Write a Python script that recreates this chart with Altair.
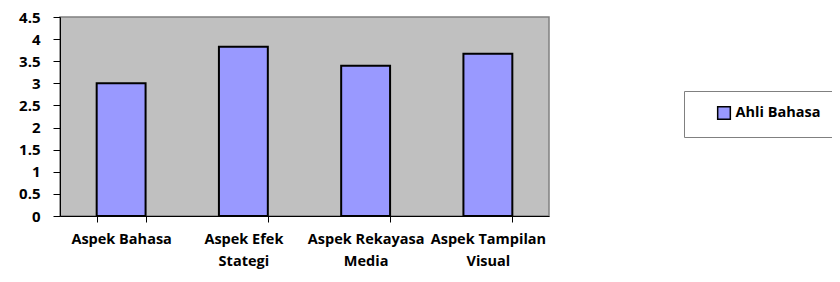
import altair as alt
import pandas as pd

categories = ["Aspek Bahasa", "Aspek Efek|Stategi", "Aspek Rekayasa|Media", "Aspek Tampilan|Visual"]
values = [3.0, 3.83, 3.4, 3.67]
series = ["Ahli Bahasa"] * 4

df = pd.DataFrame({"aspek": categories, "nilai": values, "seri": series})

FONT = "Open Sans"

chart = alt.Chart(df).mark_bar(stroke="black", strokeWidth=2).encode(
    x=alt.X("aspek:N", sort=categories, title=None,
            scale=alt.Scale(paddingInner=0.6, paddingOuter=0.3),
            axis=alt.Axis(labelAngle=0,
                          labelExpr="datum.value ? split(datum.value, '|') : ''",
                          tickBand="extent", tickSize=6, tickColor="black",
                          domainColor="black", labelPadding=10,
                          labelFontSize=14.5, labelFontWeight="bold", labelColor="black",
                          labelFont=FONT, labelLineHeight=22)),
    y=alt.Y("nilai:Q", title=None,
            scale=alt.Scale(domain=[0, 4.5]),
            axis=alt.Axis(values=[0, 0.5, 1, 1.5, 2, 2.5, 3, 3.5, 4, 4.5],
                          format="~g", grid=False, tickSize=7, tickColor="black",
                          domainColor="black", labelPadding=13,
                          labelFontSize=15, labelFontWeight="bold", labelColor="black",
                          labelFont=FONT)),
    color=alt.Color("seri:N", title=None,
                    scale=alt.Scale(range=["#9999FF"]),
                    legend=alt.Legend(orient="none", legendX=624, legendY=74,
                                      symbolType="square", symbolStrokeColor="black",
                                      symbolStrokeWidth=1.5, symbolSize=160,
                                      symbolOffset=18, labelOffset=4,
                                      strokeColor="#808080", padding=14.5,
                                      labelFontSize=14.5, labelFontWeight="bold",
                                      labelFont=FONT, labelColor="black")),
).properties(
    width=489, height=199,
    autosize=alt.AutoSizeParams(type="none"),
    padding={"left": 52, "top": 9, "right": 283, "bottom": 58},
).configure_view(
    fill="#C0C0C0", stroke="#808080", strokeWidth=1.5
)

chart.save("out.html", embed_options={"renderer": "svg", "actions": False})
